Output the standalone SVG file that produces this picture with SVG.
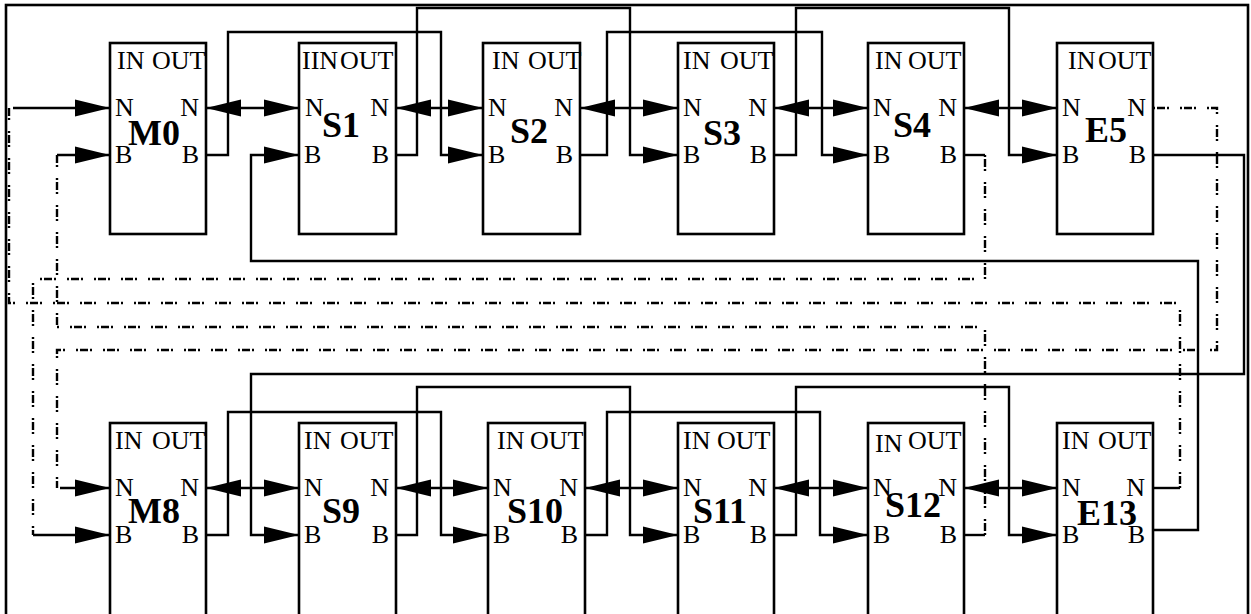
<svg xmlns="http://www.w3.org/2000/svg" width="1251" height="614" viewBox="0 0 1251 614">
<style>
.box{fill:#fff;stroke:#000;stroke-width:2.6}
.t{font-family:"Liberation Serif","Times New Roman",serif;font-size:26px;fill:#000}
.e{text-anchor:end}
.lbl{font-family:"Liberation Serif","Times New Roman",serif;font-size:36px;font-weight:bold;fill:#000}
.w{fill:none;stroke:#000;stroke-width:2.4}
.a{fill:none;stroke:#000;stroke-width:2.4;marker-end:url(#ah)}
.d{fill:none;stroke:#000;stroke-width:2.4;marker-start:url(#ah);marker-end:url(#ah)}
.dd{fill:none;stroke:#000;stroke-width:2.4;stroke-dasharray:2 2 8 2 2 11}
</style>
<defs>
<marker id="ah" markerUnits="userSpaceOnUse" markerWidth="36" markerHeight="18" refX="35" refY="9" orient="auto-start-reverse" viewBox="0 0 36 18"><path d="M0,0.5 L35,9 L0,17.5 z" fill="#000"/></marker>
</defs>
<rect x="6" y="5" width="1242" height="620" fill="#fff" stroke="#000" stroke-width="2.6"/>

<g id="M0"><rect class="box" x="110" y="43" width="96" height="191"/><text class="t" x="117" y="69">IN</text><text class="t" x="152" y="69">OUT</text><text class="t" x="115" y="116">N</text><text class="t e" x="199" y="116">N</text><text class="t" x="115" y="163">B</text><text class="t e" x="199" y="163">B</text><text class="lbl" x="128" y="145">M0</text></g>
<g id="S1"><rect class="box" x="299" y="43" width="97" height="191"/><text class="t" x="302" y="69">IIN</text><text class="t" x="340" y="69">OUT</text><text class="t" x="305" y="116">N</text><text class="t e" x="389" y="116">N</text><text class="t" x="304" y="163">B</text><text class="t e" x="389" y="163">B</text><text class="lbl" x="322" y="137">S1</text></g>
<g id="S2"><rect class="box" x="483" y="43" width="97" height="191"/><text class="t" x="492" y="69">IN</text><text class="t" x="528" y="69">OUT</text><text class="t" x="488" y="116">N</text><text class="t e" x="573" y="116">N</text><text class="t" x="488" y="163">B</text><text class="t e" x="573" y="163">B</text><text class="lbl" x="510" y="143">S2</text></g>
<g id="S3"><rect class="box" x="678" y="43" width="96" height="191"/><text class="t" x="683" y="69">IN</text><text class="t" x="720" y="69">OUT</text><text class="t" x="683" y="116">N</text><text class="t e" x="767" y="116">N</text><text class="t" x="683" y="163">B</text><text class="t e" x="767" y="163">B</text><text class="lbl" x="703" y="145">S3</text></g>
<g id="S4"><rect class="box" x="868" y="43" width="96" height="191"/><text class="t" x="875" y="69">IN</text><text class="t" x="908" y="69">OUT</text><text class="t" x="873" y="116">N</text><text class="t e" x="957" y="116">N</text><text class="t" x="873" y="163">B</text><text class="t e" x="957" y="163">B</text><text class="lbl" x="893" y="137">S4</text></g>
<g id="E5"><rect class="box" x="1057" y="43" width="96" height="191"/><text class="t" x="1068" y="69">IN</text><text class="t" x="1098" y="69">OUT</text><text class="t" x="1062" y="116">N</text><text class="t e" x="1146" y="116">N</text><text class="t" x="1062" y="163">B</text><text class="t e" x="1146" y="163">B</text><text class="lbl" x="1085" y="142">E5</text></g>

<g id="M8"><rect class="box" x="110" y="423" width="96" height="200"/><text class="t" x="115" y="449">IN</text><text class="t" x="152" y="449">OUT</text><text class="t" x="115" y="496">N</text><text class="t e" x="199" y="496">N</text><text class="t" x="115" y="543">B</text><text class="t e" x="199" y="543">B</text><text class="lbl" x="128" y="523">M8</text></g>
<g id="S9"><rect class="box" x="299" y="423" width="97" height="200"/><text class="t" x="304" y="449">IN</text><text class="t" x="340" y="449">OUT</text><text class="t" x="304" y="496">N</text><text class="t e" x="389" y="496">N</text><text class="t" x="304" y="543">B</text><text class="t e" x="389" y="543">B</text><text class="lbl" x="322" y="523">S9</text></g>
<g id="S10"><rect class="box" x="488" y="423" width="97" height="200"/><text class="t" x="497" y="449">IN</text><text class="t" x="530" y="449">OUT</text><text class="t" x="493" y="496">N</text><text class="t e" x="578" y="496">N</text><text class="t" x="493" y="543">B</text><text class="t e" x="578" y="543">B</text><text class="lbl" x="507" y="523">S10</text></g>
<g id="S11"><rect class="box" x="678" y="423" width="96" height="200"/><text class="t" x="683" y="449">IN</text><text class="t" x="717" y="449">OUT</text><text class="t" x="683" y="496">N</text><text class="t e" x="767" y="496">N</text><text class="t" x="683" y="543">B</text><text class="t e" x="767" y="543">B</text><text class="lbl" x="693" y="523">S11</text></g>
<g id="S12"><rect class="box" x="868" y="423" width="96" height="200"/><text class="t" x="875" y="452">IN</text><text class="t" x="908" y="449">OUT</text><text class="t" x="873" y="496">N</text><text class="t e" x="957" y="496">N</text><text class="t" x="873" y="543">B</text><text class="t e" x="957" y="543">B</text><text class="lbl" x="885" y="517">S12</text></g>
<g id="E13"><rect class="box" x="1057" y="423" width="96" height="200"/><text class="t" x="1062" y="449">IN</text><text class="t" x="1098" y="449">OUT</text><text class="t" x="1062" y="496">N</text><text class="t e" x="1145" y="496">N</text><text class="t" x="1062" y="543">B</text><text class="t e" x="1145" y="543">B</text><text class="lbl" x="1077" y="525">E13</text></g>

<g id="connectors">
<path class="d" d="M206,108 H299"/>
<path class="d" d="M396,108 H483"/>
<path class="d" d="M580,108 H678"/>
<path class="d" d="M774,108 H868"/>
<path class="d" d="M964,108 H1057"/>
<path class="d" d="M206,488 H299"/>
<path class="d" d="M396,488 H488"/>
<path class="d" d="M585,488 H678"/>
<path class="d" d="M774,488 H868"/>
<path class="d" d="M964,488 H1057"/>

<path class="a" d="M206,155 H228 V32 H441 V155 H483"/>
<path class="a" d="M396,155 H417 V8 H630 V155 H678"/>
<path class="a" d="M580,155 H607 V32 H822 V155 H868"/>
<path class="a" d="M774,155 H796 V8 H1009 V155 H1057"/>
<path class="a" d="M1153,530 H1198 V261 H251 V155 H299"/>
<path class="a" d="M1153,155 H1244 V374 H251 V535 H299"/>

<path class="a" d="M206,535 H228 V412 H441 V535 H488"/>
<path class="a" d="M396,535 H417 V387 H630 V535 H678"/>
<path class="a" d="M585,535 H607 V412 H820 V535 H868"/>
<path class="a" d="M774,535 H796 V387 H1009 V535 H1057"/>

<path class="dd" d="M1153,108 H1217 V350 H57 V488"/>
<path class="a" d="M60,488 H110"/>
<path class="w" d="M1153,488 H1180"/>
<path class="dd" d="M1180,488 V303 H9 V108"/>
<path class="a" d="M13,108 H110"/>
<path class="w" d="M964,155 H985"/>
<path class="dd" d="M985,155 V279 H33 V535"/>
<path class="a" d="M33,535 H110"/>
<path class="w" d="M964,535 H985"/>
<path class="dd" d="M985,535 V327 H57 V155"/>
<path class="a" d="M57,155 H110"/>
</g>
</svg>
